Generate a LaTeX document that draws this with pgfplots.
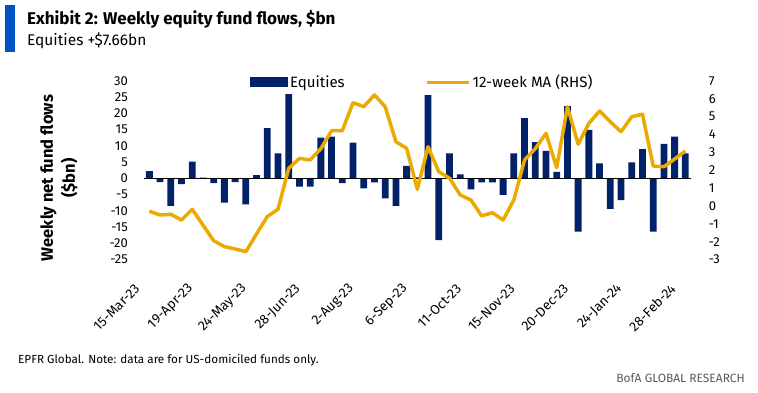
\documentclass[border=0pt]{standalone}
\usepackage{pgfplots}
\pgfplotsset{compat=1.18}
\usepackage{pgfplotstable}
\usepackage{fontspec}
\setmainfont{Fira Sans}
\definecolor{bofanavy}{RGB}{1,33,105}
\definecolor{bofagold}{RGB}{234,170,0}
\definecolor{bofablue}{RGB}{0,83,196}
\definecolor{footgray}{RGB}{90,90,90}
\pgfplotstableread{
idx flow
0 2.2
1 -1.2
2 -8.5
3 -1.8
4 5.1
5 0.2
6 -1.5
7 -7.5
8 -1.2
9 -8.0
10 1.0
11 15.4
12 7.7
13 25.9
14 -2.6
15 -2.6
16 12.5
17 12.8
18 -1.5
19 11.0
20 -3.1
21 -1.3
22 -6.2
23 -8.5
24 3.8
25 0.3
26 25.6
27 -19.0
28 7.7
29 1.2
30 -3.4
31 -1.3
32 -1.3
33 -5.1
34 7.7
35 18.5
36 11.1
37 8.4
38 2.0
39 22.2
40 -16.4
41 14.9
42 4.6
43 -9.4
44 -6.7
45 4.9
46 9.0
47 -16.4
48 10.6
49 12.8
50 7.66
}\flows
\pgfplotstableread{
idx ma
0 -0.30
1 -0.51
2 -0.47
3 -0.79
4 -0.19
5 -1.07
6 -1.95
7 -2.28
8 -2.41
9 -2.56
10 -1.57
11 -0.60
12 -0.19
13 2.10
14 2.66
15 2.57
16 3.20
17 4.21
18 4.21
19 5.78
20 5.55
21 6.21
22 5.55
23 3.59
24 3.22
25 0.93
26 3.31
27 1.91
28 1.55
29 0.61
30 0.33
31 -0.56
32 -0.38
33 -0.79
34 0.33
35 2.57
36 3.20
37 4.06
38 2.14
39 5.55
40 3.45
41 4.62
42 5.31
43 4.71
44 4.15
45 4.99
46 5.13
47 2.23
48 2.19
49 2.62
50 3.07
}\mavg
\begin{document}
\begin{tikzpicture}
\useasboundingbox (0pt,0pt) rectangle (758pt,393pt);
\fill[bofablue] (5pt,388pt) rectangle (15pt,341pt);
\node[anchor=base west, inner sep=0pt, font=\bfseries\fontsize{17}{20}\selectfont] at (27pt,368pt) {Exhibit 2: Weekly equity fund flows, \$bn};
\node[anchor=base west, inner sep=0pt, font=\fontsize{15.5}{18}\selectfont] at (27pt,347pt) {Equities +\$7.66bn};
\node[anchor=west, inner sep=0pt, font=\fontsize{11.7}{13}\selectfont] at (18pt,33pt) {EPFR Global. Note: data are for US-domiciled funds only.};
\node[anchor=east, inner sep=0pt, text=footgray, font=\fontsize{12}{13}\selectfont] at (745pt,15pt) {BofA GLOBAL RESEARCH};
\begin{axis}[
  at={(144pt,133.5pt)}, anchor=south west,
  width=546.7pt, height=178.7pt, scale only axis,
  xmin=-0.5, xmax=50.5, ymin=-25, ymax=30,
  axis line style={draw=none}, major tick length=0pt,
  ytick={-25,-20,...,30},
  yticklabel style={anchor=east, inner sep=0pt, xshift=-16pt, font=\fontsize{13}{13}\selectfont},
  xtick={0,5,...,50},
  xticklabels={15-Mar-23,19-Apr-23,24-May-23,28-Jun-23,2-Aug-23,6-Sep-23,11-Oct-23,15-Nov-23,20-Dec-23,24-Jan-24,28-Feb-24},
  xticklabel style={xshift=-12pt, yshift=-27pt, rotate=45, anchor=east, inner sep=0pt, font=\fontsize{13.5}{13.5}\selectfont},
  /pgf/number format/assume math mode=true,
  ylabel={Weekly net fund flows\\(\$bn)},
  ylabel style={at={(axis description cs:-0.1555,0.456)}, anchor=center, align=center, font=\bfseries\fontsize{16.5}{22}\selectfont},
  legend style={at={(0.1939,0.9916)}, anchor=west, draw=none, fill=none, inner sep=0pt, font=\fontsize{15}{18}\selectfont},
  clip=false,
]
\addplot[ybar, bar width=6.8pt, bar shift=0pt, fill=bofanavy, draw=none,
  legend image code/.code={\fill[bofanavy] (0pt,-5pt) rectangle (38pt,5pt);}] table[x=idx,y=flow] {\flows};
\addlegendentry{Equities}
\draw[black, line width=1.3pt] (axis cs:-0.5,0) -- (axis cs:50.5,0);
\end{axis}
\begin{axis}[
  at={(144pt,133.5pt)}, anchor=south west,
  width=546.7pt, height=178.7pt, scale only axis,
  xmin=-0.5, xmax=50.5, ymin=-3, ymax=7,
  hide x axis,
  axis line style={draw=none}, major tick length=0pt,
  ytick={-3,-2,...,7},
  yticklabel pos=right,
  yticklabel style={anchor=west, inner sep=0pt, xshift=18pt, font=\fontsize{13}{13}\selectfont},
  /pgf/number format/assume math mode=true,
  legend style={at={(0.514,0.9916)}, anchor=west, draw=none, fill=none, inner sep=0pt, font=\fontsize{15}{18}\selectfont},
  clip=false,
]
\addplot[bofagold, line width=3.5pt, line join=round, mark=none,
  legend image code/.code={\draw[bofagold, line width=3.5pt] (0pt,0pt) -- (42pt,0pt);}] table[x=idx,y=ma] {\mavg};
\addlegendentry{12-week MA (RHS)}
\end{axis}
\end{tikzpicture}
\end{document}
